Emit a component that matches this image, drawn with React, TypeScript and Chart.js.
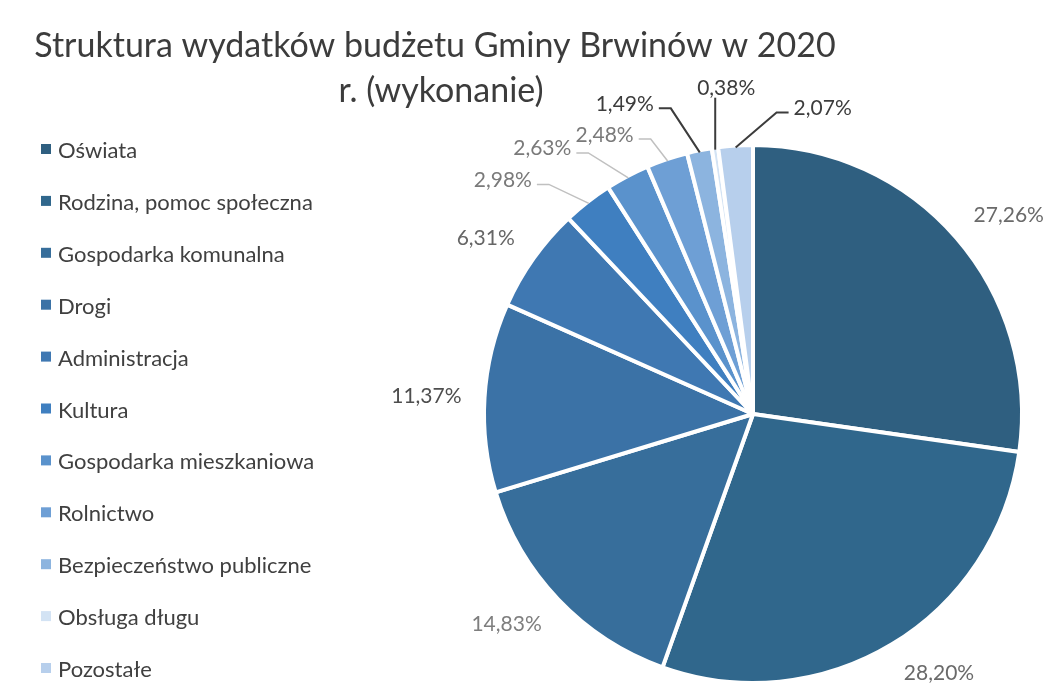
import React, { useEffect, useRef } from "react";
import { Chart, registerables } from "chart.js";

Chart.register(...registerables);

// ---- data ----
const categories = [
  "Oświata",
  "Rodzina, pomoc społeczna",
  "Gospodarka komunalna",
  "Drogi",
  "Administracja",
  "Kultura",
  "Gospodarka mieszkaniowa",
  "Rolnictwo",
  "Bezpieczeństwo publiczne",
  "Obsługa długu",
  "Pozostałe",
];
const shares = [27.26, 28.2, 14.83, 11.37, 6.31, 2.98, 2.63, 2.48, 1.49, 0.38, 2.07];
const titleLines = ["Struktura wydatków budżetu Gminy Brwinów w 2020", "r. (wykonanie)"];

// ---- styles ----
const sliceColors = [
  "#2f5f80",
  "#30678c",
  "#376e9b",
  "#3b72a6",
  "#3f78b2",
  "#3f7fc0",
  "#5a92cc",
  "#6e9fd5",
  "#8cb4df",
  "#d3e3f4",
  "#b7cfec",
];
const labelColors = [
  "#6a6a6a",
  "#6a6a6a",
  "#7e7e7e",
  "#4e4e4e",
  "#666666",
  "#7a7a7a",
  "#7a7a7a",
  "#7a7a7a",
  "#3c3c3c",
  "#3c3c3c",
  "#3c3c3c",
];
const leaderColors = [
  "", "", "", "", "",
  "#c0c0c0", "#c0c0c0", "#c0c0c0",
  "#3c3c3c", "#3c3c3c", "#3c3c3c",
];
// label offsets (px) from the slice's outer mid point, for labels with leader lines
const leaderOffsets: ([number, number] | null)[] = [
  null, null, null, null, null,
  [-86, -24], [-86, -30], [-63, -27], [-75, -49], [11, -62], [87, -40],
];

const BORDER = 4;
const FONT = "Lato, 'Open Sans', sans-serif";

const fmt = (v: number) => v.toFixed(2).replace(".", ",") + "%";
const clamp1 = (v: number) => Math.max(-1, Math.min(1, v));

const overlayPlugin = {
  id: "overlay",
  afterDraw(chart: any) {
    const ctx: CanvasRenderingContext2D = chart.ctx;
    ctx.save();

    // title
    ctx.fillStyle = "#3c3c3c";
    ctx.font = `34px ${FONT}`;
    ctx.textAlign = "center";
    ctx.textBaseline = "alphabetic";
    ctx.fillText(titleLines[0], 435, 57);
    ctx.fillText(titleLines[1], 441, 102);

    // legend
    ctx.font = `22px ${FONT}`;
    ctx.textAlign = "left";
    categories.forEach((name, i) => {
      const cy = 150 + i * 51.9;
      ctx.fillStyle = sliceColors[i];
      ctx.fillRect(41, cy - 6, 10, 10);
      ctx.fillStyle = "#404040";
      ctx.fillText(name, 58, cy + 8);
    });

    // data labels
    const meta = chart.getDatasetMeta(0);
    meta.data.forEach((arc: any, i: number) => {
      const p = arc.getProps(["x", "y", "startAngle", "endAngle", "outerRadius"], true);
      const mid = (p.startAngle + p.endAngle) / 2;
      const R = p.outerRadius - BORDER / 2;
      const ux = Math.cos(mid);
      const uy = Math.sin(mid);
      const text = fmt(shares[i]);
      ctx.font = `21px ${FONT}`;
      const w = ctx.measureText(text).width;
      const ax = p.x + R * ux;
      const ay = p.y + R * uy;
      let cx: number;
      let cy: number;
      const off = leaderOffsets[i];
      if (!off) {
        const px = p.x + (R + 25) * ux;
        const py = p.y + (R + 25) * uy;
        cx = px + (w / 2) * clamp1(2 * ux);
        cy = py + 8 * clamp1(2 * uy);
      } else {
        cx = ax + off[0];
        cy = ay + off[1];
        ctx.strokeStyle = leaderColors[i];
        ctx.lineWidth = leaderColors[i] === "#c0c0c0" ? 1.5 : 2;
        ctx.beginPath();
        if (Math.abs(off[0]) < w / 2) {
          ctx.moveTo(ax, cy + 10);
          ctx.lineTo(ax, ay);
        } else {
          const s = Math.sign(off[0]);
          const sx = cx - s * (w / 2 + 5);
          const ex = sx - s * 12;
          ctx.moveTo(sx, cy + 5);
          ctx.lineTo(ex, cy + 5);
          ctx.lineTo(ax, ay);
        }
        ctx.stroke();
      }
      ctx.fillStyle = labelColors[i];
      ctx.textAlign = "center";
      ctx.fillText(text, cx, cy + 7.5);
    });

    ctx.restore();
  },
};

export default function App() {
  const canvasRef = useRef<HTMLCanvasElement | null>(null);

  useEffect(() => {
    const canvas = canvasRef.current;
    if (!canvas) return;
    const chart = new Chart(canvas, {
      type: "pie",
      data: {
        labels: categories,
        datasets: [
          {
            data: shares,
            backgroundColor: sliceColors,
            borderColor: "#ffffff",
            borderWidth: BORDER,
          },
        ],
      },
      options: {
        responsive: false,
        animation: false,
        events: [],
        layout: { padding: { left: 482, top: 143, right: 33, bottom: 12 } },
        plugins: {
          legend: { display: false },
          tooltip: { enabled: false },
          title: { display: false },
        },
      },
      plugins: [overlayPlugin],
    });
    let alive = true;
    if ((document as any).fonts && (document as any).fonts.load) {
      (document as any).fonts
        .load(`21px Lato`)
        .then(() => alive && chart.update())
        .catch(() => {});
    }
    return () => {
      alive = false;
      chart.destroy();
    };
  }, []);

  return (
    <div style={{ position: "absolute", left: 0, top: 0, width: 1057, height: 697, background: "#ffffff" }}>
      <canvas ref={canvasRef} width={1057} height={697} style={{ width: 1057, height: 697, display: "block" }} />
    </div>
  );
}
